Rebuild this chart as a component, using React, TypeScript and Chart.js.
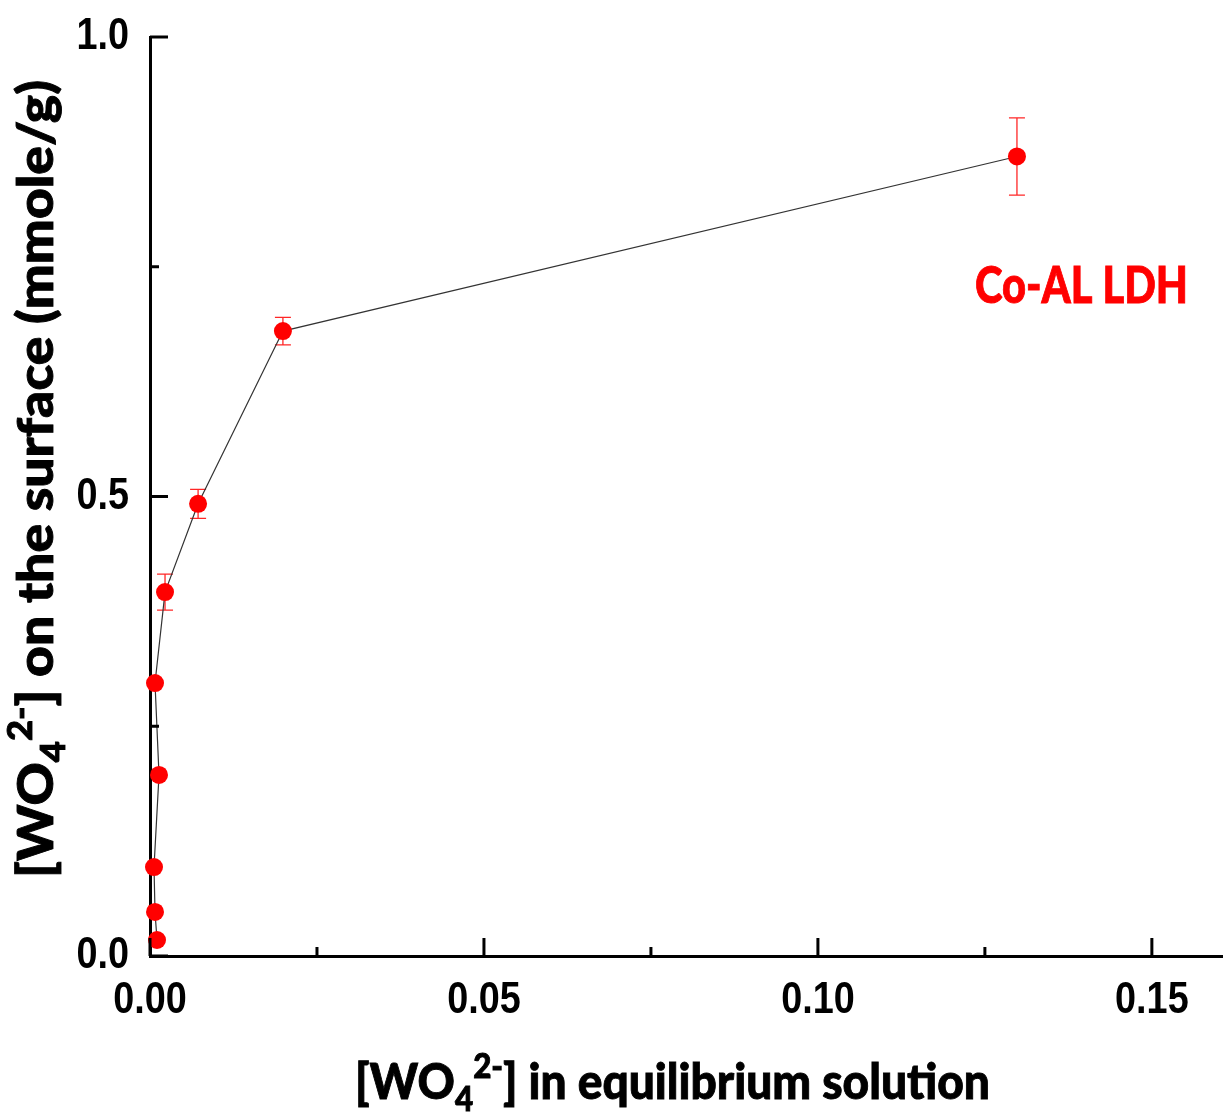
import React, { useEffect, useRef } from 'react';
import { Chart, registerables } from 'chart.js';

Chart.register(...registerables);

// ---- data ----
const xEquilibrium = [0.00105, 0.00075, 0.0006, 0.00135, 0.00075, 0.00225, 0.0072, 0.0199, 0.1298];
const yAdsorbed = [0.0174, 0.0479, 0.0968, 0.197, 0.297, 0.396, 0.492, 0.68, 0.87];
const yError = [0, 0, 0, 0, 0, 0.0196, 0.0158, 0.015, 0.042];
const xTickValues = [0, 0.025, 0.05, 0.075, 0.1, 0.125, 0.15];
const xTickLabels = ['0.00', '', '0.05', '', '0.10', '', '0.15'];
const yTickValues = [0, 0.25, 0.5, 0.75, 1.0];
const yTickLabels = ['0.0', '', '0.5', '', '1.0'];
const xAxisMax = 0.1605;
const seriesLabel = 'Co-AL LDH';
const xTitleParts = [
  { t: '[WO', k: 'n' },
  { t: '4', k: 'sub' },
  { t: '2-', k: 'sup' },
  { t: '] in equilibrium solution', k: 'n' },
];
const yTitleParts = [
  { t: '[WO', k: 'n' },
  { t: '4', k: 'sub' },
  { t: '2-', k: 'sup' },
  { t: '] on the surface (mmole/g)', k: 'n' },
];

const TITLE_FONT = 'Lato, "Open Sans", sans-serif';
const TICK_FONT = '"Liberation Sans", Arial, sans-serif';
const TICK_SIZE = 45;
const TICK_SQUEEZE = 0.84;

function drawRich(ctx: CanvasRenderingContext2D, parts: { t: string; k: string }[], x: number, y: number, width: number, angle: number) {
  const MAIN = 50;
  const SMALL = 34;
  ctx.save();
  ctx.translate(x, y);
  ctx.rotate(angle);
  let total = 0;
  const items = parts.map((p) => {
    const size = p.k === 'n' ? MAIN : SMALL;
    ctx.font = `900 ${size}px ${TITLE_FONT}`;
    const w = ctx.measureText(p.t).width;
    total += w;
    return { ...p, size, w };
  });
  ctx.scale(width / total, 1);
  ctx.fillStyle = '#000';
  ctx.strokeStyle = '#000';
  ctx.lineWidth = 0.9;
  ctx.textBaseline = 'alphabetic';
  ctx.textAlign = 'left';
  let cx = 0;
  for (const it of items) {
    ctx.font = `900 ${it.size}px ${TITLE_FONT}`;
    const dy = it.k === 'sub' ? 12 : it.k === 'sup' ? -21 : 0;
    ctx.fillText(it.t, cx, dy);
    ctx.strokeText(it.t, cx, dy);
    cx += it.w;
  }
  ctx.restore();
}

function drawFitted(ctx: CanvasRenderingContext2D, text: string, x: number, y: number, width: number, size: number, color: string) {
  ctx.save();
  ctx.font = `900 ${size}px ${TITLE_FONT}`;
  const w = ctx.measureText(text).width;
  ctx.translate(x, y);
  ctx.scale(width / w, 1);
  ctx.fillStyle = color;
  ctx.strokeStyle = color;
  ctx.lineWidth = 0.9;
  ctx.textBaseline = 'alphabetic';
  ctx.textAlign = 'left';
  ctx.fillText(text, 0, 0);
  ctx.strokeText(text, 0, 0);
  ctx.restore();
}

function drawTickLabel(ctx: CanvasRenderingContext2D, text: string, x: number, y: number, align: CanvasTextAlign) {
  ctx.save();
  ctx.translate(x, y);
  ctx.scale(TICK_SQUEEZE, 1);
  ctx.font = `bold ${TICK_SIZE}px ${TICK_FONT}`;
  ctx.fillStyle = '#000';
  ctx.textAlign = align;
  ctx.textBaseline = 'alphabetic';
  ctx.fillText(text, 0, 0);
  ctx.restore();
}

const decorPlugin = {
  id: 'decor',
  beforeDatasetsDraw(chart: any) {
    const ctx = chart.ctx as CanvasRenderingContext2D;
    const xs = chart.scales.x;
    const ys = chart.scales.y;
    ctx.save();
    ctx.strokeStyle = 'rgba(255,0,0,0.85)';
    ctx.lineWidth = 1.3;
    const cap = 8;
    for (let i = 0; i < xEquilibrium.length; i++) {
      const e = yError[i];
      if (!e) continue;
      const px = xs.getPixelForValue(xEquilibrium[i]);
      const top = ys.getPixelForValue(yAdsorbed[i] + e);
      const bot = ys.getPixelForValue(yAdsorbed[i] - e);
      ctx.beginPath();
      ctx.moveTo(px, top);
      ctx.lineTo(px, bot);
      ctx.moveTo(px - cap, top);
      ctx.lineTo(px + cap, top);
      ctx.moveTo(px - cap, bot);
      ctx.lineTo(px + cap, bot);
      ctx.stroke();
    }
    ctx.restore();
  },
  afterDraw(chart: any) {
    const ctx = chart.ctx as CanvasRenderingContext2D;
    const xs = chart.scales.x;
    const ys = chart.scales.y;
    const area = chart.chartArea;
    ctx.save();
    ctx.strokeStyle = '#000';
    ctx.lineWidth = 3;
    ctx.beginPath();
    yTickValues.forEach((v, i) => {
      const len = yTickLabels[i] ? 18 : 9;
      const py = ys.getPixelForValue(v);
      ctx.moveTo(area.left, py);
      ctx.lineTo(area.left + len, py);
    });
    xTickValues.forEach((v, i) => {
      const len = xTickLabels[i] ? 18 : 9;
      const px = xs.getPixelForValue(v);
      ctx.moveTo(px, area.bottom);
      ctx.lineTo(px, area.bottom - len);
    });
    ctx.stroke();
    ctx.restore();
    yTickValues.forEach((v, i) => {
      if (!yTickLabels[i]) return;
      drawTickLabel(ctx, yTickLabels[i], area.left - 21, ys.getPixelForValue(v) + 12, 'right');
    });
    xTickValues.forEach((v, i) => {
      if (!xTickLabels[i]) return;
      drawTickLabel(ctx, xTickLabels[i], xs.getPixelForValue(v), area.bottom + 57, 'center');
    });
    drawRich(ctx, xTitleParts, 355, 1099, 635, 0);
    drawRich(ctx, yTitleParts, 53, 878, 798, -Math.PI / 2);
    drawFitted(ctx, seriesLabel, 975, 303, 213, 51, '#ff0000');
  },
};

export default function App() {
  const ref = useRef<HTMLCanvasElement | null>(null);
  useEffect(() => {
    if (!ref.current) return;
    const chart = new Chart(ref.current, {
      type: 'scatter',
      data: {
        datasets: [
          {
            label: seriesLabel,
            data: xEquilibrium.map((x, i) => ({ x, y: yAdsorbed[i] })),
            showLine: true,
            borderColor: '#333333',
            borderWidth: 1.2,
            pointRadius: 9,
            pointBackgroundColor: '#ff0000',
            pointBorderColor: '#ff0000',
            pointBorderWidth: 0,
            clip: false,
          },
        ],
      },
      options: {
        responsive: false,
        animation: false,
        layout: { autoPadding: false, padding: { top: 37, right: 3, left: 0, bottom: 0 } },
        plugins: { legend: { display: false }, tooltip: { enabled: false } },
        scales: {
          x: {
            type: 'linear',
            min: 0,
            max: xAxisMax,
            afterFit: (s: any) => { s.height = 160; s.paddingLeft = 0; s.paddingRight = 0; },
            afterBuildTicks: (s: any) => { s.ticks = xTickValues.map((v) => ({ value: v })); },
            grid: { display: false, drawTicks: false },
            border: { display: true, color: '#000', width: 3 },
            ticks: { display: false },
          },
          y: {
            type: 'linear',
            min: 0,
            max: 1,
            afterFit: (s: any) => { s.width = 150; s.paddingTop = 0; s.paddingBottom = 0; },
            afterBuildTicks: (s: any) => { s.ticks = yTickValues.map((v) => ({ value: v })); },
            grid: { display: false, drawTicks: false },
            border: { display: true, color: '#000', width: 3 },
            ticks: { display: false },
          },
        },
      },
      plugins: [decorPlugin],
    });
    return () => chart.destroy();
  }, []);
  return (
    <div style={{ position: 'absolute', left: 0, top: 0, width: 1225, height: 1116, background: '#fff' }}>
      <canvas ref={ref} width={1225} height={1116} style={{ display: 'block' }} />
    </div>
  );
}
